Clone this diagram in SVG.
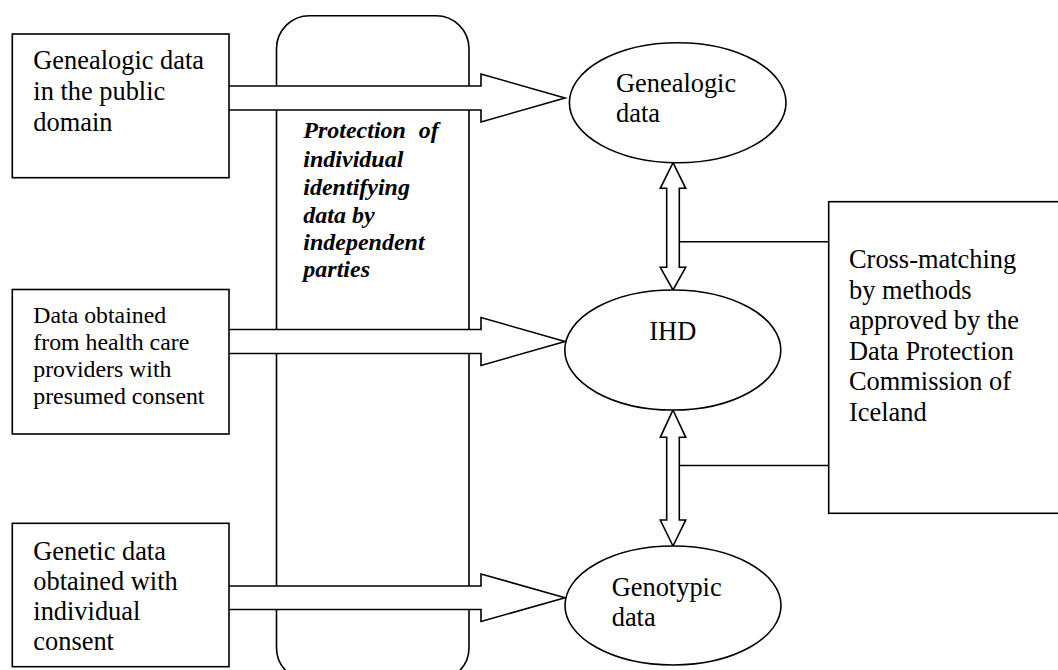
<svg xmlns="http://www.w3.org/2000/svg" width="1058" height="670" viewBox="0 0 1058 670">
<style>
  .box { fill: #ffffff; stroke: #000000; stroke-width: 1.6; }
  .arr { fill: #ffffff; stroke: #000000; stroke-width: 1.6; stroke-linejoin: miter; }
  .ln { fill: none; stroke: #000000; stroke-width: 1.6; }
  .t { font-family: "Liberation Serif", "Times New Roman", serif; font-size: 26.4px; fill: #000000; }
  .ts { font-family: "Liberation Serif", "Times New Roman", serif; font-size: 23.8px; fill: #000000; }
  .tb { font-family: "Liberation Serif", "Times New Roman", serif; font-size: 24px; font-weight: bold; font-style: italic; fill: #000000; }
</style>
<rect width="1058" height="670" fill="#ffffff"/>

<g id="protection">
  <rect class="box" x="276.5" y="15.7" width="192.5" height="665" rx="33" ry="33"/>
  <text class="tb">
    <tspan x="303.3" y="138" word-spacing="6.7">Protection of</tspan>
    <tspan x="303.3" y="166.7">individual</tspan>
    <tspan x="303.3" y="195">identifying</tspan>
    <tspan x="303.3" y="222.7">data by</tspan>
    <tspan x="303.3" y="250">independent</tspan>
    <tspan x="303.3" y="276.7">parties</tspan>
  </text>
</g>

<g id="connectors">
  <path class="arr" d="M229,86 H481 V74 L565,98 L481,122 V110 H229"/>
  <path class="arr" d="M229,329.5 H481 V317.5 L565,341.5 L481,365.5 V353.5 H229"/>
  <path class="arr" d="M229,586 H481 V574 L565,597.7 L481,621.5 V609.5 H229"/>
  <path class="arr" d="M673,162.7 L685.7,188.3 H679.3 V267.3 H685.7 L673,290 L660.3,267.3 H666.7 V188.3 H660.3 Z"/>
  <path class="arr" d="M673,410 L685.7,437.3 H679.3 V520 H685.7 L673,546 L660.3,520 H666.7 V437.3 H660.3 Z"/>
  <line class="ln" x1="679.3" y1="241.7" x2="828.7" y2="241.7"/>
  <line class="ln" x1="679.3" y1="465.5" x2="828.7" y2="465.5"/>
</g>

<g id="box-genealogic-public">
  <rect class="box" x="12.3" y="34" width="216.7" height="143.7"/>
  <text class="t">
    <tspan x="33.3" y="69.3">Genealogic data</tspan>
    <tspan x="33.3" y="100">in the public</tspan>
    <tspan x="33.3" y="130.7">domain</tspan>
  </text>
</g>

<g id="box-health-care">
  <rect class="box" x="12.3" y="289.5" width="216.7" height="144.5"/>
  <text class="ts">
    <tspan x="33.3" y="322.7">Data obtained</tspan>
    <tspan x="33.3" y="350">from health care</tspan>
    <tspan x="33.3" y="377">providers with</tspan>
    <tspan x="33.3" y="404">presumed consent</tspan>
  </text>
</g>

<g id="box-genetic">
  <rect class="box" x="12.3" y="523.3" width="216.7" height="143.4"/>
  <text class="t">
    <tspan x="33.3" y="560">Genetic data</tspan>
    <tspan x="33.3" y="590">obtained with</tspan>
    <tspan x="33.3" y="620">individual</tspan>
    <tspan x="33.3" y="650">consent</tspan>
  </text>
</g>

<g id="ellipse-genealogic">
  <ellipse class="box" cx="677.7" cy="102.7" rx="108.3" ry="60"/>
  <text class="t">
    <tspan x="616" y="91.7">Genealogic</tspan>
    <tspan x="616" y="121.7">data</tspan>
  </text>
</g>

<g id="ellipse-ihd">
  <ellipse class="box" cx="672.8" cy="350" rx="108" ry="60"/>
  <text class="t" x="649.3" y="340">IHD</text>
</g>

<g id="ellipse-genotypic">
  <ellipse class="box" cx="673" cy="605.5" rx="108" ry="59.5"/>
  <text class="t">
    <tspan x="611.7" y="596">Genotypic</tspan>
    <tspan x="611.7" y="625.7">data</tspan>
  </text>
</g>

<g id="box-cross-matching">
  <rect class="box" x="828.7" y="201.7" width="240" height="311.6"/>
  <text class="t">
    <tspan x="849" y="268.3">Cross-matching</tspan>
    <tspan x="849" y="298.7">by methods</tspan>
    <tspan x="849" y="329">approved by the</tspan>
    <tspan x="849" y="359.5">Data Protection</tspan>
    <tspan x="849" y="390">Commission of</tspan>
    <tspan x="849" y="420.5">Iceland</tspan>
  </text>
</g>
</svg>
